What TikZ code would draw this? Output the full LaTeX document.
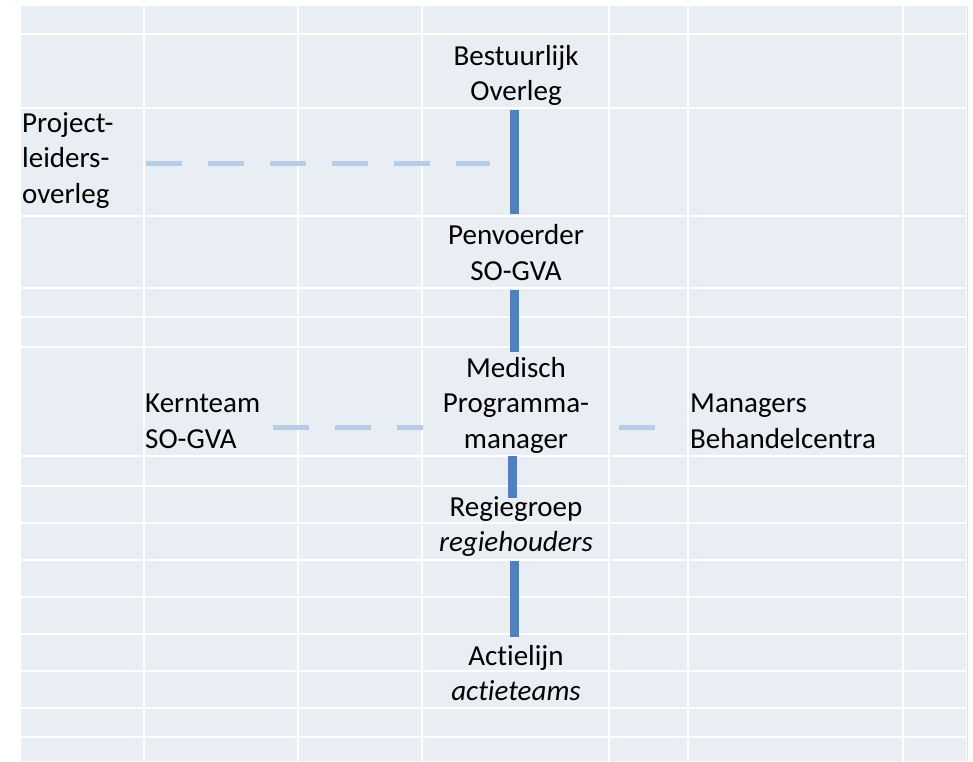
\documentclass[tikz,border=0pt]{standalone}
\usepackage{fontspec}
\setmainfont{Carlito}[Ligatures=CommonOff]
\definecolor{cellbg}{RGB}{233,237,244}
\definecolor{solidblue}{RGB}{79,129,189}
\definecolor{dashblue}{RGB}{183,204,229}
\begin{document}
\begin{tikzpicture}[x=1pt, y=-1pt,
		lbl/.style={font=\fontsize{29}{35.5}\selectfont, inner sep=0pt, anchor=base, align=center},
		lblleft/.style={lbl, anchor=base west, align=left},
		solidline/.style={draw=solidblue, line width=9pt},
		dashline/.style={draw=dashblue, line width=5pt, dash pattern=on 36pt off 26pt}]
		\useasboundingbox (0,0) rectangle (973,761);
		% Draw the table background
		\fill[cellbg] (21,6) rectangle (966,761);
		\draw[black!12, line width=1pt] (967,6) -- (967,761);
		% White grid lines between the cells
		\foreach \x in {144,298,422,609,688,903} {
			\draw[white, line width=2.5pt] (\x,6) -- (\x,761);
		}
		\foreach \y in {34,108,216,288,317,347,456,486,523,560,597,634,671,708,737} {
			\draw[white, line width=2.5pt] (21,\y) -- (966,\y);
		}
		% Labels of the organisation (placed at the baseline of the last line)
		\node[lbl] (bo) at (516,100.5) {Bestuurlijk\\Overleg};
		\node[lblleft] (proj) at (22,203) {Project-\\leiders-\\overleg};
		\node[lbl] (pv) at (516,280) {Penvoerder\\SO-GVA};
		\node[lbl] (med) at (516,448) {Medisch\\Programma-\\manager};
		\node[lblleft] (kern) at (145,448) {Kernteam\\SO-GVA};
		\node[lblleft] (mgr) at (690,448) {Managers\\Behandelcentra};
		\node[lbl] (rg) at (516,551.5) {Regiegroep\\\textit{regiehouders}};
		\node[lbl] (al) at (516,700.5) {Actielijn\\\textit{actieteams}};
		% Solid lines down the chain
		\draw[solidline, shorten <=4pt, shorten >=10pt] ([xshift=-2pt]bo.south) -- ([xshift=-2pt]pv.north);
		\draw[solidline, shorten <=10pt, shorten >=5pt] ([xshift=-2pt]pv.south) -- ([xshift=-2pt]med.north);
		\draw[solidline, shorten <=3pt, shorten >=-2pt] ([xshift=-4pt]med.south) -- ([xshift=-4pt]rg.north);
		\draw[solidline, shorten <=4pt, shorten >=8pt] ([xshift=-2pt]rg.south) -- ([xshift=-2pt]al.north);
		% Dashed lines to the side groups
		\draw[dashline, shorten <=32pt, shorten >=26pt] ([yshift=-3pt]proj.east) -- ([yshift=-3pt]proj.east -| bo.south);
		\draw[dashline, shorten <=13pt, shorten >=20pt] ([yshift=-6pt]kern.east) -- ([yshift=-6pt]kern.east -| med.west);
		\draw[dashline, shorten <=30pt, shorten >=35pt] ([yshift=-6pt]kern.east -| med.east) -- ([yshift=-6pt]kern.east -| mgr.west);
\end{tikzpicture}
\end{document}
